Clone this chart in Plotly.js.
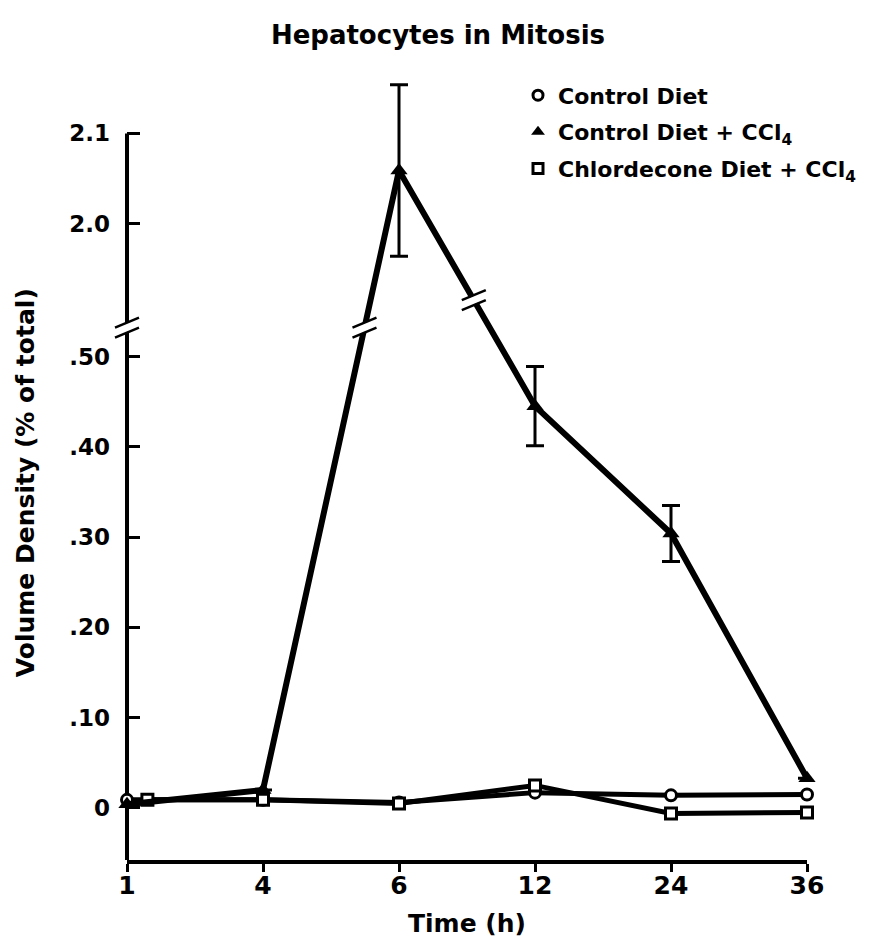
<!DOCTYPE html>
<html>
<head>
<meta charset="utf-8">
<script src="https://cdn.plot.ly/plotly-3.0.1.min.js"></script>
<style>html,body{margin:0;padding:0;background:#fff;}#chart{width:876px;height:942px;}</style>
</head>
<body>
<div id="chart"></div>
<script>
// ---- data ----
const timeLabels = ['1', '4', '6', '12', '24', '36'];
const controlDiet = [0.009, 0.009, 0.006, 0.017, 0.014, 0.015];
const controlDietCCl4 = [0.004, 0.020, 2.059, 0.445, 0.304, 0.033];
const controlDietCCl4Err = [0, 0, 0.095, 0.044, 0.031, 0];
const chlordeconeDietCCl4 = [0.009, 0.009, 0.005, 0.025, -0.006, -0.005];
const yTickValues = [0, 0.10, 0.20, 0.30, 0.40, 0.50, 2.0, 2.1];
const yTickLabels = ['0', '.10', '.20', '.30', '.40', '.50', '2.0', '2.1'];

// ---- broken-axis scale (values above the break are shifted down) ----
const breakOffset = 1.353;
const toAxis = v => (v > 1 ? v - breakOffset : v);
const axisBreakLevel = 0.532;   // where the axis is cut
const yRange = [-0.0576, 0.8283];
const axisTop = toAxis(2.1);

const xIdx = timeLabels.map((t, i) => i);
const chlorX = xIdx.map(i => (i === 0 ? 0.15 : i));

const font = {family: 'DejaVu Sans, Liberation Sans, sans-serif', color: '#000', weight: 700};

const traces = [
  {x: xIdx, y: controlDiet.map(toAxis), mode: 'lines+markers', showlegend: false, cliponaxis: false,
   line: {color: '#000', width: 5},
   marker: {symbol: 'circle', size: 11, color: '#fff', line: {color: '#000', width: 3}}},
  {x: chlorX, y: chlordeconeDietCCl4.map(toAxis), mode: 'lines+markers', showlegend: false, cliponaxis: false,
   line: {color: '#000', width: 5},
   marker: {symbol: 'square', size: 11, color: '#fff', line: {color: '#000', width: 3}}},
  {x: xIdx, y: controlDietCCl4.map(toAxis), mode: 'lines+markers', showlegend: false, cliponaxis: false,
   line: {color: '#000', width: 6},
   marker: {symbol: 'triangle-up', size: 15, color: '#000'},
   error_y: {type: 'data', array: controlDietCCl4Err, visible: true, color: '#000', thickness: 3, width: 9}},
  // legend entries (markers only)
  {x: [null], y: [null], mode: 'markers', name: 'Control Diet', legendgroup: 'a',
   marker: {symbol: 'circle', size: 10, color: '#fff', line: {color: '#000', width: 3}}},
  {x: [null], y: [null], mode: 'markers', name: 'Control Diet + CCl<sub>4</sub>', legendgroup: 'b',
   marker: {symbol: 'triangle-up', size: 12, color: '#000'}},
  {x: [null], y: [null], mode: 'markers', name: 'Chlordecone Diet + CCl<sub>4</sub>', legendgroup: 'c',
   marker: {symbol: 'square', size: 10, color: '#fff', line: {color: '#000', width: 3}}}
];

// break marks "//"
function breakMark(xref, xa, ya) {
  const base = {xref: xref, yref: 'y', xsizemode: 'pixel', ysizemode: 'pixel', xanchor: xa, yanchor: ya, layer: 'above'};
  return [
    Object.assign({}, base, {type: 'line', x0: -9, y0: -4, x1: 9, y1: 4, line: {color: '#fff', width: 8}}),
    Object.assign({}, base, {type: 'line', x0: -12, y0: 0, x1: 12, y1: 10, line: {color: '#000', width: 2.5}}),
    Object.assign({}, base, {type: 'line', x0: -12, y0: -10, x1: 12, y1: 0, line: {color: '#000', width: 2.5}})
  ];
}
const ya = controlDietCCl4.map(toAxis);
const t1 = (axisBreakLevel - ya[1]) / (ya[2] - ya[1]);
const t2 = 0.55;
const axisLine = {type: 'line', xref: 'paper', yref: 'y', x0: 0, x1: 0, y0: yRange[0], y1: axisTop,
                  layer: 'below', line: {color: '#000', width: 4}};
const shapes = [axisLine].concat(
  breakMark('paper', 0, axisBreakLevel),
  breakMark('x', xIdx[1] + t1 * (xIdx[2] - xIdx[1]), ya[1] + t1 * (ya[2] - ya[1])),
  breakMark('x', xIdx[2] + t2 * (xIdx[3] - xIdx[2]), ya[2] + t2 * (ya[3] - ya[2]))
);

const layout = {
  width: 876, height: 942,
  margin: {l: 127, r: 69, t: 60, b: 82},
  paper_bgcolor: '#fff', plot_bgcolor: '#fff',
  font: Object.assign({}, font, {size: 22}),
  title: {text: 'Hepatocytes in Mitosis', x: 0.5, xanchor: 'center', y: 0.963, yanchor: 'middle',
          font: Object.assign({}, font, {size: 26})},
  showlegend: true,
  legend: {x: 0.575, y: 0.982, xanchor: 'left', yanchor: 'top', bgcolor: 'rgba(0,0,0,0)',
           traceorder: 'grouped', tracegroupgap: 5, itemwidth: 30,
           font: Object.assign({}, font, {size: 22})},
  xaxis: {range: [0, 5], tickvals: xIdx, ticktext: timeLabels, showgrid: false, zeroline: false,
          showline: true, linecolor: '#000', linewidth: 4, ticks: 'outside', ticklen: 8, tickwidth: 3,
          tickcolor: '#000', ticklabelstandoff: -8, tickfont: Object.assign({}, font, {size: 25}),
          title: {text: 'Time (h)', standoff: 16, font: Object.assign({}, font, {size: 25})}},
  yaxis: {range: yRange, tickvals: yTickValues.map(toAxis), ticktext: yTickLabels,
          showgrid: false, zeroline: false, showline: false,
          ticks: 'inside', ticklen: 13, tickwidth: 3, tickcolor: '#000', ticklabelstandoff: 16,
          tickfont: Object.assign({}, font, {size: 23})},
  annotations: [
    {text: 'Volume Density (% of total)', xref: 'paper', yref: 'paper', x: -0.15, y: 0.471,
     xanchor: 'center', yanchor: 'middle', textangle: -90, showarrow: false,
     font: Object.assign({}, font, {size: 25})}
  ],
  shapes: shapes
};

Plotly.newPlot('chart', traces, layout, {displayModeBar: false, staticPlot: true});
</script>
</body>
</html>
